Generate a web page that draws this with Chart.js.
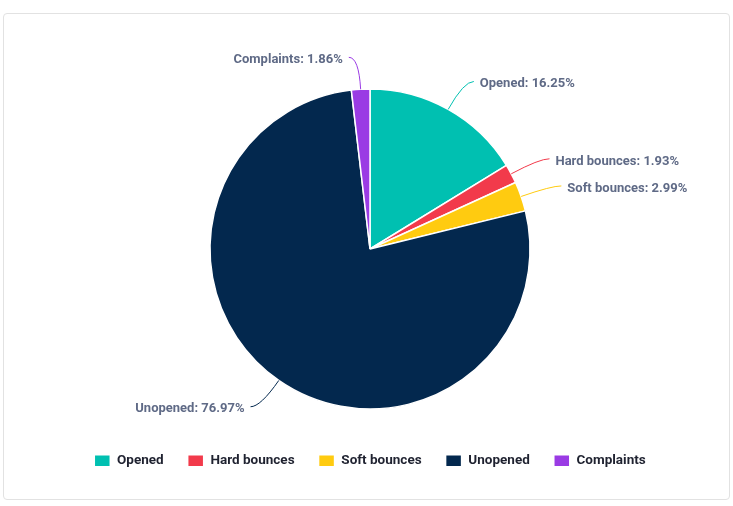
<!DOCTYPE html>
<html>
<head>
<meta charset="utf-8">
<script src="https://cdn.jsdelivr.net/npm/chart.js@4"></script>
<style>
  html, body { margin: 0; padding: 0; background: #fff; }
  .card {
    position: absolute; left: 3px; top: 13px; width: 725px; height: 485px;
    border: 1px solid #e2e2e2; border-radius: 4px; background: #fff;
  }
  #emailPie { position: absolute; left: 0; top: 0; }
</style>
</head>
<body>
<div class="card"></div>
<canvas id="emailPie" width="733" height="506"></canvas>
<script>
// email campaign outcome, percent of sent
const categories = ["Opened", "Hard bounces", "Soft bounces", "Unopened", "Complaints"];
const shares = [16.25, 1.93, 2.99, 76.97, 1.86];
const sliceColors = ["#00c0b1", "#f23a4b", "#ffcb10", "#03284e", "#9a3be4"];

// Highcharts-ish labels with soft connectors
const pieLabels = {
  id: 'pieLabels',
  afterDatasetsDraw(chart) {
    const { ctx } = chart;
    const meta = chart.getDatasetMeta(0);
    ctx.save();
    ctx.font = "bold 13px Roboto";
    ctx.textBaseline = "middle";
    meta.data.forEach((arc, i) => {
      const { x, y, startAngle, endAngle, outerRadius } = arc.getProps(['x', 'y', 'startAngle', 'endAngle', 'outerRadius'], true);
      const mid = (startAngle + endAngle) / 2;
      const dx = Math.cos(mid), dy = Math.sin(mid);
      const side = dx >= 0 ? 1 : -1;
      const p0 = { x: x + dx * outerRadius, y: y + dy * outerRadius };
      const bend = { x: x + dx * (outerRadius + 32), y: y + dy * (outerRadius + 32) };
      const end = { x: bend.x + side * 10, y: bend.y };

      ctx.strokeStyle = sliceColors[i];
      ctx.lineWidth = 1;
      ctx.beginPath();
      ctx.moveTo(p0.x, p0.y);
      ctx.quadraticCurveTo(bend.x, bend.y, end.x, end.y);
      ctx.stroke();

      ctx.fillStyle = "#5f6a86";
      ctx.textAlign = side > 0 ? "left" : "right";
      ctx.fillText(`${categories[i]}: ${shares[i].toFixed(2)}%`, end.x + side * 6, end.y + 2.5);
    });
    ctx.restore();
  }
};

new Chart(document.getElementById('emailPie'), {
  type: 'pie',
  data: {
    labels: categories,
    datasets: [{
      data: shares,
      backgroundColor: sliceColors,
      borderColor: "#ffffff",
      borderWidth: 1.5,
      radius: 160
    }]
  },
  options: {
    responsive: false,
    animation: false,
    layout: { padding: { top: 68, bottom: 28.5, left: 7, right: 0 } },
    plugins: {
      tooltip: { enabled: false },
      legend: {
        position: 'bottom',
        labels: {
          boxWidth: 16,
          boxHeight: 12,
          padding: 24,
          color: "#1f2230",
          font: { family: "Roboto", size: 13.5, weight: "bold" }
        }
      }
    }
  },
  plugins: [pieLabels]
});
</script>
</body>
</html>
